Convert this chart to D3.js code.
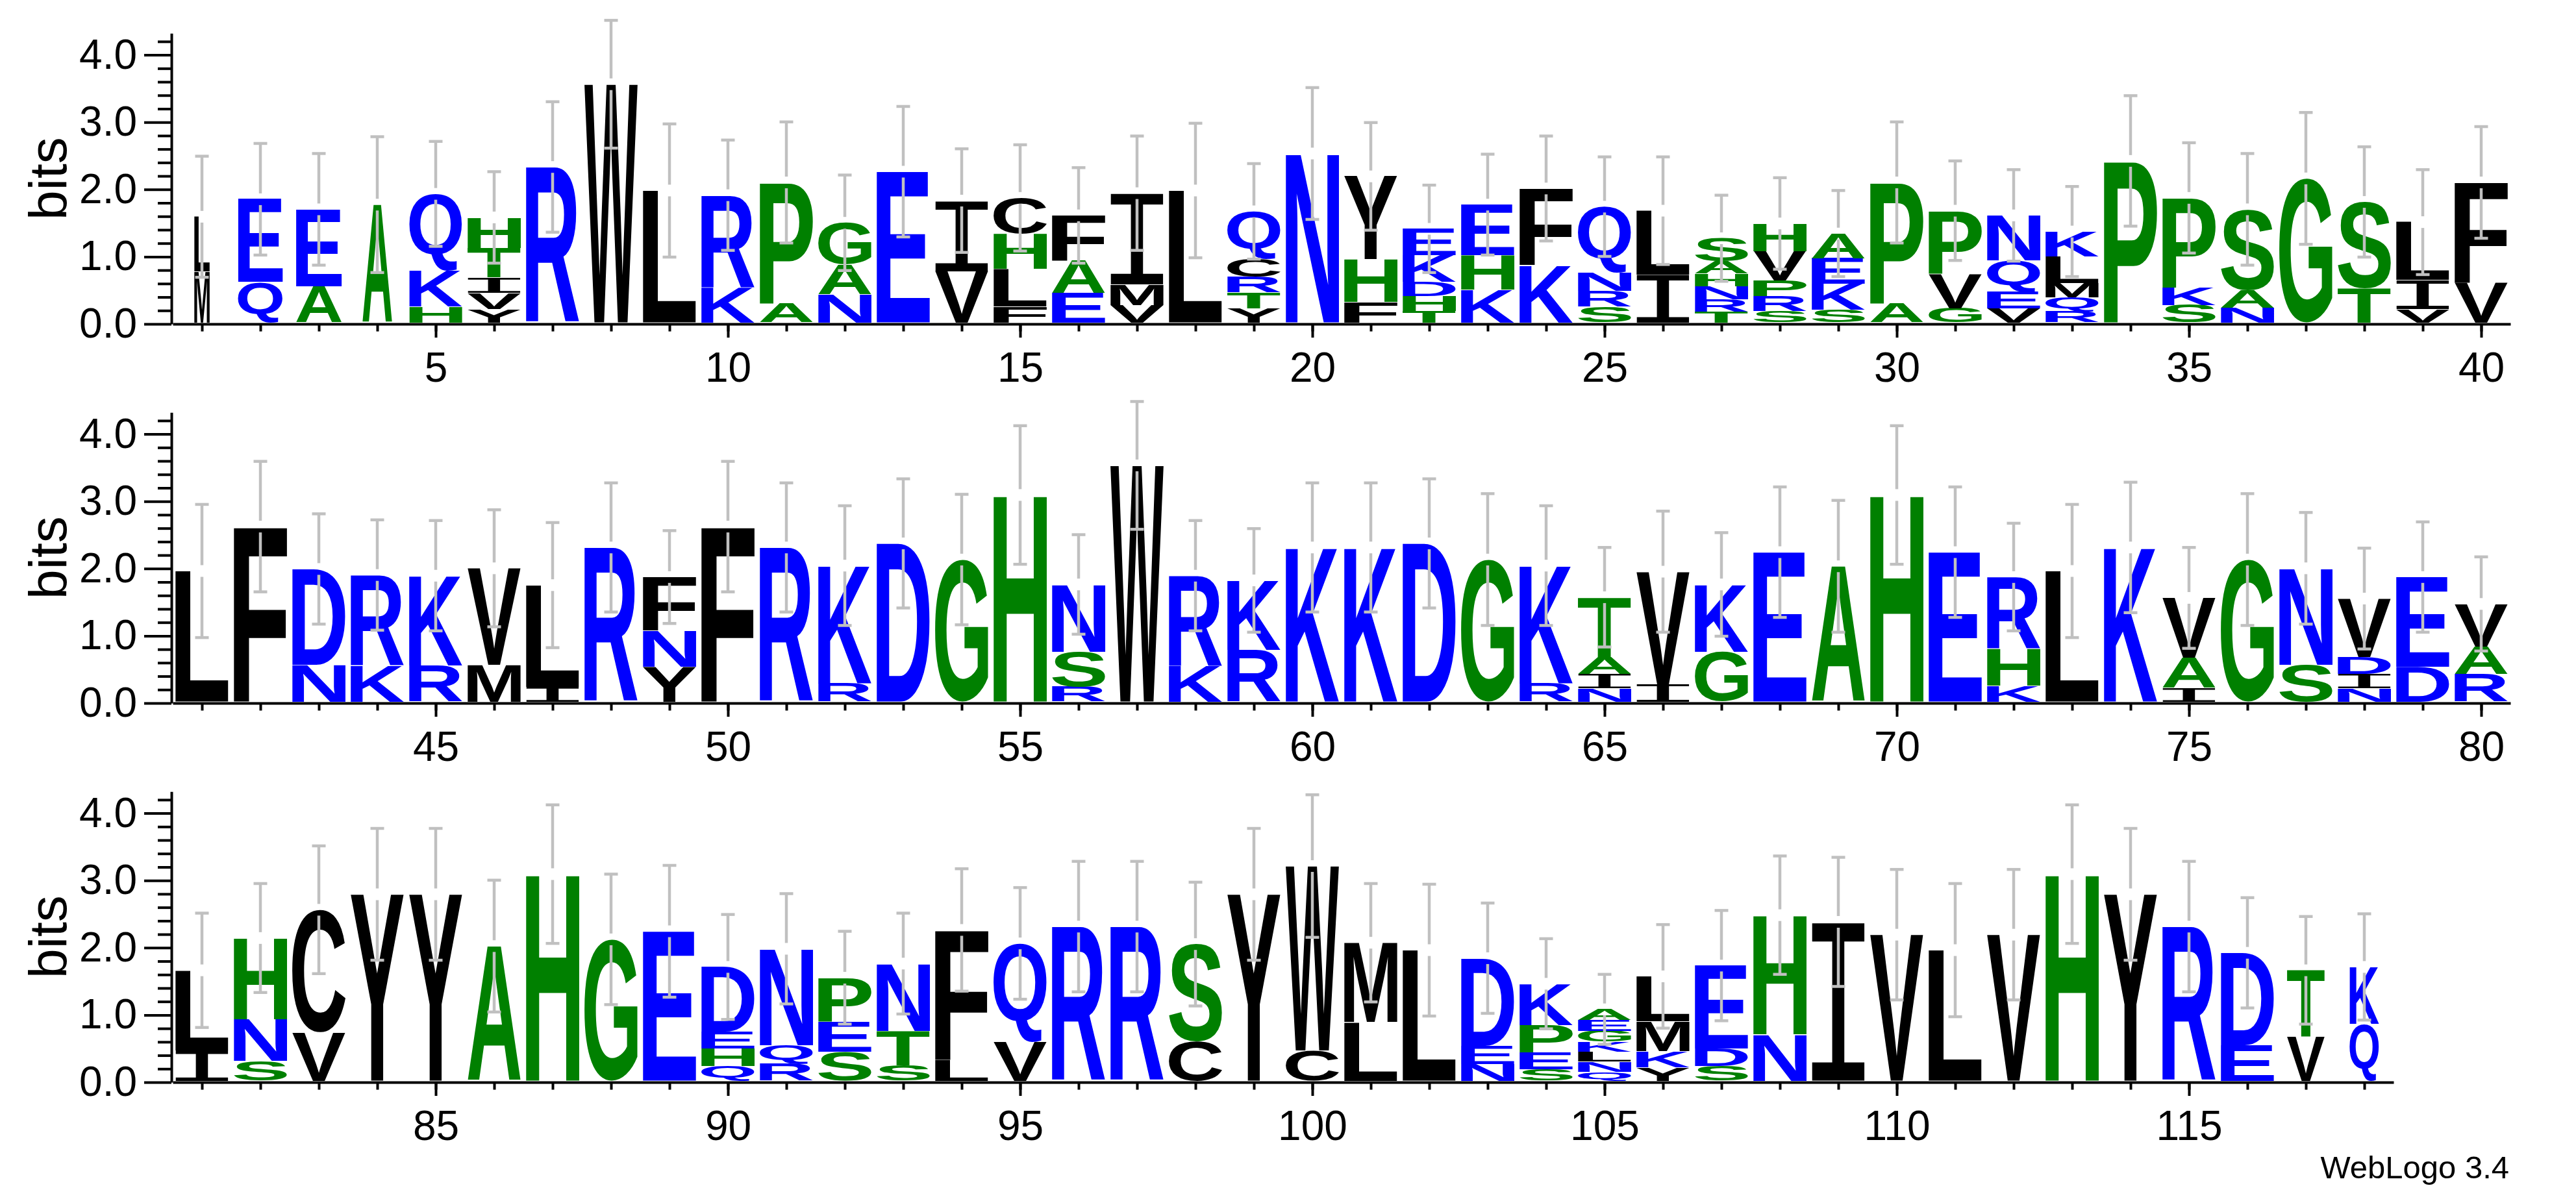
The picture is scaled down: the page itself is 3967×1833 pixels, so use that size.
<!DOCTYPE html>
<head>
<meta charset="utf-8">
<title>WebLogo</title>
<script src="https://d3js.org/d3.v7.min.js"></script>
<style>
body {
  margin: 0;
  background: #fff;
}
svg {
  display: block;
  font-family: "Liberation Sans", Arial, sans-serif;
}
.axis path, .axis line {
  stroke: #000;
  stroke-width: 4px;
  fill: none;
}
.axis text {
  font-size: 64px;
  fill: #000;
  font-family: "Liberation Sans", Arial, sans-serif;
}
.errbar line {
  stroke: #c0c0c0;
  stroke-width: 4.5px;
}
</style>
</head>
<body>
<script>

// letters of each stack, bottom to top
const residues = [
  "ML","QE","AE","A","HKQ","YVITH","R","W","L","KR",
  "AP","NAG","E","VI","FLHC","EAF","VMI","L","YTRCQ","N",
  "FHY","THDKE","KHE","KF","SRNQ","IL","TRNHAS","SRPVH","SKEA","AP",
  "GVP","VEQN","RQMLK","P","SKP","NAS","G","TS","VIL","VF",
  "L","F","ND","KR","RK","MV","IL","R","YNF","F",
  "R","RK","D","G","H","RSN","W","KR","RK","K",
  "K","D","G","RK","NIAT","IV","GK","E","A","H",
  "E","KHR","L","K","IAV","G","SN","NIDV","DE","RAV",
  "IL","SNH","VC","Y","Y","A","H","G","E","QHED",
  "RQN","SEP","STN","LF","VQ","R","R","CS","Y","CW",
  "LM","L","NED","SEPK","QNLKGEA","YKML","SDE","NH","I","V",
  "L","V","H","Y","R","ED","VT","QK"
];

// letter heights in bits, same order
const bits = [
  [0.76,0.81],[0.60,1.23],[0.54,1.14],[1.75],[0.24,0.53,1.14],[0.20,0.24,0.23,0.44,0.45],[2.31],[3.54],[1.96],[0.52,1.37],
  [0.28,1.80],[0.42,0.44,0.62],[2.24],[0.76,1.05],[0.24,0.56,0.52,0.53],[0.44,0.48,0.67],[0.26,0.30,1.36],[1.96],[0.21,0.24,0.23,0.26,0.71],[2.51],
  [0.30,0.64,1.23],[0.17,0.22,0.21,0.40,0.39],[0.49,0.51,0.75],[0.85,1.14],[0.23,0.24,0.27,0.98],[0.71,0.95],[0.16,0.18,0.20,0.19,0.18,0.34],[0.17,0.22,0.23,0.44,0.41],[0.19,0.38,0.38,0.37],[0.28,1.80],
  [0.21,0.51,0.94],[0.21,0.25,0.46,0.67],[0.16,0.21,0.21,0.40,0.37],[2.40],[0.26,0.26,1.33],[0.22,0.26,1.20],[2.14],[0.51,1.28],[0.20,0.43,0.86],[0.59,1.49],
  [1.94],[2.60],[0.55,1.42],[0.54,1.34],[0.54,1.33],[0.55,1.43],[0.22,1.51],[2.29],[0.52,0.54,0.79],[2.60],
  [2.29],[0.27,1.75],[2.35],[2.11],[3.07],[0.22,0.52,1.00],[3.51],[0.53,1.34],[0.77,1.03],[2.29],
  [2.29],[2.35],[2.11],[0.27,1.75],[0.20,0.21,0.25,0.89],[0.26,1.67],[0.74,1.00],[2.22],[2.01],[3.07],
  [2.22],[0.24,0.55,1.06],[1.94],[2.29],[0.20,0.45,0.89],[2.11],[0.55,1.43],[0.20,0.21,0.25,0.87],[0.52,1.33],[0.41,0.41,0.63],
  [0.45,1.19],[0.29,0.62,1.21],[0.72,1.82],[2.77],[2.77],[2.00],[3.07],[2.10],[2.22],[0.22,0.26,0.25,0.96],
  [0.25,0.28,1.43],[0.43,0.45,0.65],[0.23,0.51,1.00],[0.31,1.93],[0.58,1.46],[2.29],[2.29],[0.58,1.45],[2.77],[0.45,2.74],
  [0.87,1.18],[1.94],[0.25,0.27,1.30],[0.17,0.25,0.41,0.61],[0.13,0.15,0.15,0.15,0.16,0.16,0.16],[0.20,0.24,0.44,0.67],[0.22,0.26,1.23],[0.69,1.77],[2.36],[2.17],
  [1.94],[2.17],[3.07],[2.77],[2.29],[0.53,1.37],[0.65,0.99],[0.84,0.85]
];

// fraction of full stack width (share of sequences without a gap)
const widths = [
  0.29,0.84,0.86,0.56,0.99,1,1,1,1,1,
  1,1,1,1,1,1,1,1,1,1,
  1,1,1,1,1,1,1,1,1,1,
  1,1,1,1,1,1,1,1,1,1,
  1,1,1,1,1,1,1,1,1,1,
  1,1,1,1,1,1,1,1,1,1,
  1,1,1,1,1,1,1,1,1,1,
  1,1,1,1,1,1,1,1,1,1,
  1,1,1,1,1,1,1,1,1,1,
  1,1,1,1,1,1,1,1,1,1,
  1,1,1,1,1,1,1,1,1,1,
  1,1,1,1,1,1,0.71,0.55
];

// error bar half length, bits
const errors = [
  0.90,0.83,0.83,1.01,0.78,0.68,0.97,0.95,0.99,0.82,
  0.90,0.71,0.97,0.77,0.79,0.71,0.85,1.00,0.71,0.98,
  0.80,0.65,0.75,0.78,0.74,0.80,0.64,0.68,0.64,0.90,
  0.74,0.68,0.67,0.97,0.82,0.83,0.98,0.82,0.78,0.83,
  0.99,0.97,0.82,0.82,0.82,0.87,0.93,0.96,0.69,0.97,
  0.96,0.89,0.96,0.97,1.03,0.74,0.95,0.82,0.77,0.96,
  0.96,0.96,0.98,0.89,0.74,0.90,0.77,0.97,0.98,1.03,
  0.97,0.80,0.99,0.97,0.75,0.98,0.83,0.75,0.82,0.70,
  0.85,0.81,0.95,0.98,0.98,0.98,1.03,0.97,0.98,0.78,
  0.82,0.69,0.75,0.91,0.83,0.97,0.97,0.92,0.98,1.06,
  0.88,0.98,0.82,0.67,0.52,0.77,0.82,0.88,0.96,0.97,
  0.99,0.97,1.03,0.98,0.97,0.82,0.80,0.79
];

const yTicks = [0, 1, 2, 3, 4];

const width = 3967,
  height = 1833,
  maxBits = Math.log2(20),
  bitPx = 103.6,
  posPx = 90,
  stackW = 82,
  left = 266,
  perRow = 40,
  rowTop = 499,
  rowGap = 584;

// hydrophobicity colour scheme
function color(c) {
  if ("RKDENQ".indexOf(c) >= 0) return "#0000ff";
  if ("SGHTAP".indexOf(c) >= 0) return "#008000";
  return "#000000";
}

// ink box of a glyph, so it can be stretched to fill its slot
const ctx = document.createElement("canvas").getContext("2d");
const glyphs = {};
function glyph(ch) {
  if (!glyphs[ch]) {
    // thin serif I, as weblogo draws it
    const serif = ch === "I";
    const fam = serif ? "'Liberation Mono'" : "'Liberation Sans'",
      weight = serif ? "normal" : "bold";
    ctx.font = weight + " 200px " + fam;
    const m = ctx.measureText(ch);
    glyphs[ch] = {
      fam: fam,
      weight: weight,
      l: m.actualBoundingBoxLeft,
      r: m.actualBoundingBoxRight,
      a: m.actualBoundingBoxAscent,
      d: m.actualBoundingBoxDescent
    };
  }
  return glyphs[ch];
}

const svg = d3.select("body").append("svg")
  .attr("width", width)
  .attr("height", height);

const nRows = Math.ceil(residues.length / perRow);

for (let r = 0; r < nRows; r++) {
  const first = r * perRow + 1,
    last = Math.min(residues.length, first + perRow - 1),
    axisY = rowTop + r * rowGap;

  const x = d3.scaleLinear()
    .domain([first - 0.5, last + 0.5])
    .range([left, left + (last - first + 1) * posPx]);

  const y = d3.scaleLinear()
    .domain([0, maxBits])
    .range([axisY, axisY - maxBits * bitPx]);

  const base = v => y(v) - 2.5;

  const row = svg.append("g");

  // stacks
  d3.range(first, last + 1).forEach(p => {
    const i = p - 1,
      w = stackW * widths[i],
      x0 = x(p) - w / 2;
    let cum = 0;
    residues[i].split("").forEach((ch, j) => {
      const h = bits[i][j],
        y0 = base(cum + h),
        y1 = base(cum),
        g = glyph(ch),
        sx = w / (g.l + g.r),
        sy = (y1 - y0) / (g.a + g.d);
      row.append("text")
        .attr("transform", "translate(" + (x0 + g.l * sx) + "," + (y0 + g.a * sy) + ") scale(" + sx + "," + sy + ")")
        .style("font-family", g.fam)
        .style("font-weight", g.weight)
        .style("font-size", "200px")
        .attr("fill", color(ch))
        .text(ch);
      cum += h;
    });
  });

  // error bars
  const gap = 9, cap = 10.5;
  d3.range(first, last + 1).forEach(p => {
    const i = p - 1,
      total = d3.sum(bits[i]),
      e = errors[i],
      cx = x(p),
      top = base(total);
    const eb = row.append("g").attr("class", "errbar");
    eb.append("line").attr("x1", cx).attr("x2", cx).attr("y1", base(total + e)).attr("y2", top - gap);
    eb.append("line").attr("x1", cx).attr("x2", cx).attr("y1", top + gap).attr("y2", base(total - e));
    eb.append("line").attr("x1", cx - cap).attr("x2", cx + cap).attr("y1", base(total + e)).attr("y2", base(total + e));
    eb.append("line").attr("x1", cx - cap).attr("x2", cx + cap).attr("y1", base(total - e)).attr("y2", base(total - e));
  });

  // x axis: minor ticks every position, labelled major every 5
  const positions = d3.range(first, last + 1);
  row.append("g")
    .attr("class", "axis")
    .attr("transform", "translate(0," + axisY + ")")
    .call(d3.axisBottom(x).tickValues(positions).tickSize(11.5).tickSizeOuter(0).tickFormat(""));

  const xMajor = row.append("g")
    .attr("class", "axis")
    .attr("transform", "translate(0," + axisY + ")")
    .call(d3.axisBottom(x).tickValues(positions.filter(p => p % 5 === 0)).tickSize(21).tickSizeOuter(0).tickFormat(d3.format("d")));
  xMajor.select(".domain").remove();
  xMajor.selectAll("text").attr("y", 89).attr("dy", null);

  // y axis
  const yAt = left - 2;
  row.append("g")
    .attr("class", "axis")
    .attr("transform", "translate(" + yAt + ",0)")
    .call(d3.axisLeft(y).tickValues(d3.range(0.2, maxBits, 0.2).filter(v => Math.abs(v - Math.round(v)) > 0.01)).tickSize(21).tickSizeOuter(0).tickFormat(""));

  const yMajor = row.append("g")
    .attr("class", "axis")
    .attr("transform", "translate(" + yAt + ",0)")
    .call(d3.axisLeft(y).tickValues(yTicks).tickSize(42).tickPadding(11).tickSizeOuter(0).tickFormat(d3.format(".1f")));
  yMajor.select(".domain").remove();

  row.append("text")
    .attr("transform", "translate(102," + y(maxBits / 2) + ") rotate(-90)")
    .attr("text-anchor", "middle")
    .style("font-size", "82px")
    .text("bits");
}

svg.append("text")
  .attr("x", 3864)
  .attr("y", 1815)
  .attr("text-anchor", "end")
  .style("font-size", "49px")
  .text("WebLogo 3.4");

</script>
</body>
